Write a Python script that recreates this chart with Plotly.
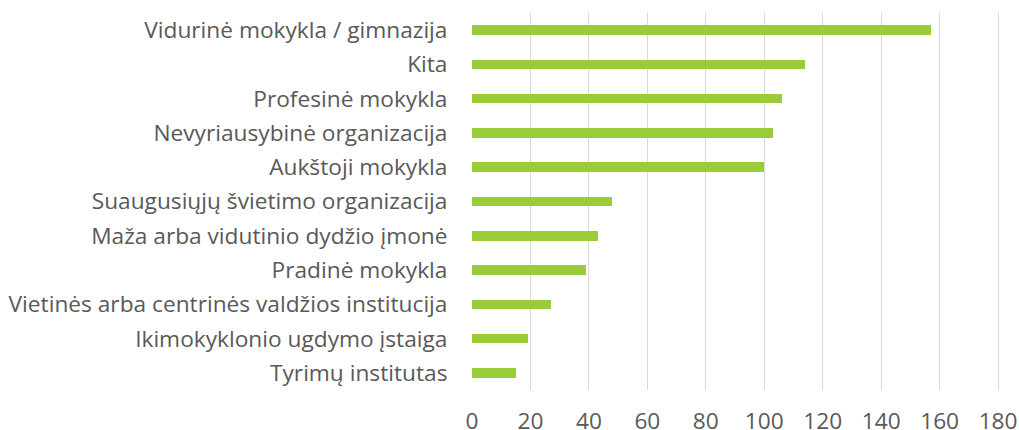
import plotly.graph_objects as go

categories = [
    "Vidurinė mokykla / gimnazija",
    "Kita",
    "Profesinė mokykla",
    "Nevyriausybinė organizacija",
    "Aukštoji mokykla",
    "Suaugusiųjų švietimo organizacija",
    "Maža arba vidutinio dydžio įmonė",
    "Pradinė mokykla",
    "Vietinės arba centrinės valdžios institucija",
    "Ikimokyklonio ugdymo įstaiga",
    "Tyrimų institutas",
]
values = [157, 114, 106, 103, 100, 48, 43, 39, 27, 19, 15]
x_ticks = [0, 20, 40, 60, 80, 100, 120, 140, 160, 180]

fig = go.Figure(
    go.Bar(
        y=categories[::-1],
        x=values[::-1],
        orientation="h",
        marker=dict(color="#9ACC38", line=dict(width=0)),
        width=0.28,
    )
)

fig.update_layout(
    width=1019,
    height=430,
    margin=dict(l=471.5, r=17.6, t=13, b=40),
    paper_bgcolor="white",
    plot_bgcolor="white",
    font=dict(family="Open Sans, Noto Sans, sans-serif", size=22.7, color="#595959"),
    showlegend=False,
    bargap=0,
)
fig.update_xaxes(
    range=[0, 181],
    tickvals=x_ticks,
    showgrid=True,
    gridcolor="#D9D9D9",
    gridwidth=1,
    zeroline=False,
    showline=False,
    ticks="outside",
    ticklen=11,
    tickcolor="rgba(0,0,0,0)",
    tickfont=dict(size=22.7, color="#595959"),
    automargin=False,
)
fig.update_yaxes(
    showgrid=False,
    zeroline=False,
    showline=False,
    ticks="outside",
    ticklen=19,
    tickcolor="rgba(0,0,0,0)",
    tickfont=dict(size=22.7, color="#595959"),
    automargin=False,
)

fig.write_html(
    "out.html",
    config={"displayModeBar": False},
    post_script="document.body.style.margin='0';document.body.style.overflow='hidden';",
)
